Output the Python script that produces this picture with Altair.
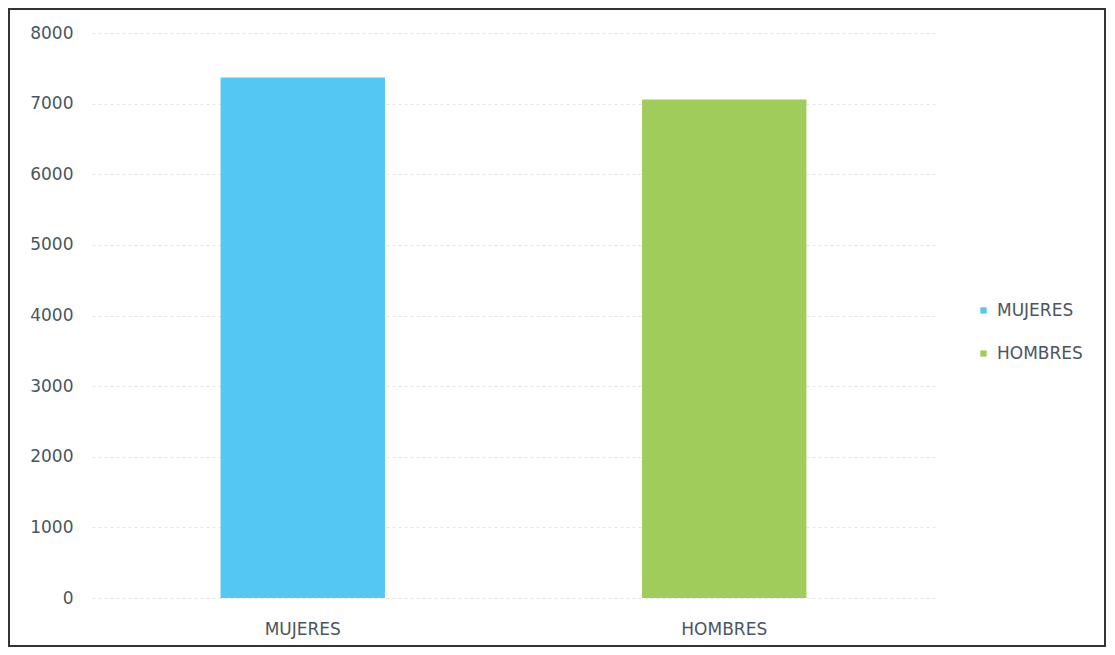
import altair as alt
import pandas as pd

categories = ["MUJERES", "HOMBRES"]
values = [7370, 7060]
colors = ["#55C8F2", "#A0CC5C"]

df = pd.DataFrame({"cat": categories, "val": values})

W, H = 843, 565
FONT = "DejaVu Sans"
LBL = "#4a5560"
FS = 17

bars = alt.Chart(df).mark_bar().encode(
    x=alt.X("cat:N", sort=categories, title=None,
            scale=alt.Scale(paddingInner=0.61, paddingOuter=0.305),
            axis=alt.Axis(labelAngle=0, labelPadding=23, domain=False, ticks=False,
                          labelFontSize=FS, labelColor=LBL, labelFont=FONT)),
    y=alt.Y("val:Q", title=None,
            scale=alt.Scale(domain=[0, 8000]),
            axis=alt.Axis(values=list(range(0, 8001, 1000)), format="d",
                          domain=False, ticks=False,
                          labelPadding=19, labelFontSize=FS, labelColor=LBL,
                          labelFont=FONT, gridColor="#e6e6e6", gridDash=[3, 3])),
    color=alt.Color("cat:N", sort=categories, title=None,
                    scale=alt.Scale(domain=categories, range=colors),
                    legend=alt.Legend(orient="none", legendX=883, legendY=269,
                                      symbolType="square", symbolSize=40,
                                      labelFontSize=FS, labelColor=LBL,
                                      labelFont=FONT, rowPadding=25,
                                      symbolStrokeWidth=0, labelOffset=5)),
)

frame = alt.Chart(pd.DataFrame({"a": [0]})).mark_rect(
    fill=None, stroke="#333333", strokeWidth=2
).encode(
    x=alt.value(-83), x2=alt.value(1013),
    y=alt.value(-24), y2=alt.value(613),
)

chart = alt.layer(bars, frame).properties(
    width=W, height=H,
    autosize=alt.AutoSizeParams(type="none"),
    padding={"left": 84, "top": 25, "right": 172, "bottom": 49},
    background="white",
).configure_view(stroke=None)

chart.save("out.html", embed_options={"renderer": "svg", "actions": False})
